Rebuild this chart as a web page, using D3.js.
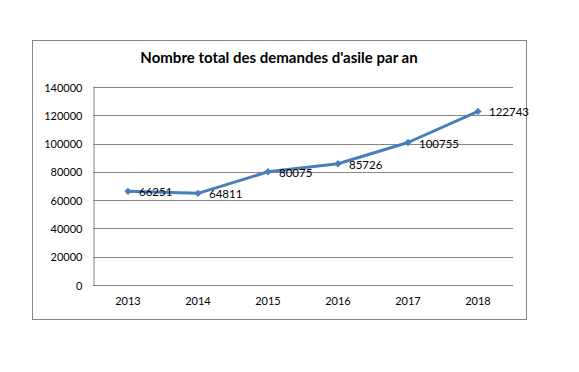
<!DOCTYPE html>
<html>
<head>
<meta charset="utf-8">
<script src="https://cdn.jsdelivr.net/npm/d3@7"></script>
<style>
  body { margin: 0; background: #fff; }
  text { font-family: Lato, "Open Sans", sans-serif; }
</style>
</head>
<body>
<svg id="chart" width="579" height="372"></svg>
<script>
const years = ['2013', '2014', '2015', '2016', '2017', '2018'];
const demandes = [66251, 64811, 80075, 85726, 100755, 122743];
const yTicks = [0, 20000, 40000, 60000, 80000, 100000, 120000, 140000];
const chartTitle = "Nombre total des demandes d'asile par an";

const svg = d3.select('#chart');

// outer frame
svg.append('rect')
    .attr('x', 32.5).attr('y', 40.5)
    .attr('width', 494).attr('height', 279)
    .attr('fill', '#fff')
    .attr('stroke', '#868686')
    .attr('stroke-width', 1);

svg.append('text')
    .attr('x', 279).attr('y', 63)
    .attr('text-anchor', 'middle')
    .attr('font-size', 15)
    .attr('font-weight', 'bold')
    .attr('fill', '#000')
    .text(chartTitle);

const x = d3.scaleBand().domain(years).range([93, 513]);
const y = d3.scaleLinear().domain([0, 140000]).range([285, 87]);

// gridlines
svg.append('g')
    .selectAll('line')
    .data(yTicks.filter(d => d > 0))
    .enter()
    .append('line')
    .attr('x1', 93).attr('x2', 513)
    .attr('y1', d => Math.round(y(d)) + 0.5)
    .attr('y2', d => Math.round(y(d)) + 0.5)
    .attr('stroke', '#868686');

// y axis
const yAxis = svg.append('g')
    .attr('transform', 'translate(93.5,0.5)')
    .call(d3.axisLeft(y).tickValues(yTicks).tickSize(0).tickPadding(11).tickFormat(d => d));
yAxis.select('.domain').attr('stroke', '#868686');
yAxis.selectAll('text').attr('font-size', 11).attr('fill', '#000').attr('font-family', 'Lato, sans-serif');

// x axis
const xAxis = svg.append('g')
    .attr('transform', 'translate(0,285.5)')
    .call(d3.axisBottom(x).tickSize(0).tickPadding(12));
xAxis.select('.domain').attr('stroke', '#868686').attr('d', 'M93,0H513');
xAxis.selectAll('text').attr('font-size', 11).attr('fill', '#000').attr('font-family', 'Lato, sans-serif');

const cx = d => x(d) + x.bandwidth() / 2;

const line = d3.line()
    .x((d, i) => cx(years[i]))
    .y(d => y(d));

svg.append('path')
    .datum(demandes)
    .attr('d', line)
    .attr('fill', 'none')
    .attr('stroke', '#4a7ebb')
    .attr('stroke-width', 3)
    .attr('stroke-linejoin', 'round');

svg.append('g')
    .selectAll('path')
    .data(demandes)
    .enter()
    .append('path')
    .attr('d', d3.symbol().type(d3.symbolDiamond2).size(34))
    .attr('transform', (d, i) => `translate(${cx(years[i])},${y(d)})`)
    .attr('fill', '#4a7ebb');

// data labels
svg.append('g')
    .selectAll('text')
    .data(demandes)
    .enter()
    .append('text')
    .attr('x', (d, i) => cx(years[i]) + 11)
    .attr('y', d => y(d) + 1)
    .attr('dy', '0.35em')
    .attr('font-size', 11.5)
    .attr('fill', '#000')
    .text(d => d);
</script>
</body>
</html>
